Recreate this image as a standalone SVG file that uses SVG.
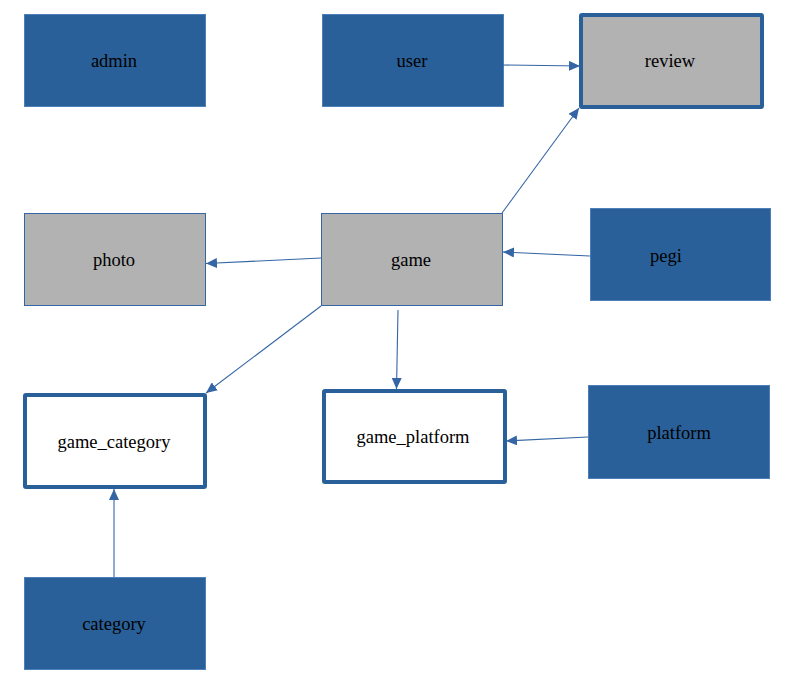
<svg xmlns="http://www.w3.org/2000/svg" width="787" height="688" viewBox="0 0 787 688">
<style>
.solid{fill:#2a6099;stroke:#4d7fb8;stroke-width:1}
.gray{fill:#b2b2b2;stroke:#3465a4;stroke-width:1}
.thick{stroke:#2a6099;stroke-width:4}
.white{fill:#ffffff}
.grayt{fill:#b2b2b2}
text{font-family:"Liberation Serif","Times New Roman",serif;font-size:18.5px;fill:#000;text-anchor:middle;dominant-baseline:central}
.conn line{stroke:#3465a4;stroke-width:1.1;fill:none;marker-end:url(#arr)}
</style>
<defs>
<marker id="arr" markerUnits="userSpaceOnUse" markerWidth="12" markerHeight="10" refX="11" refY="5" orient="auto">
<path d="M0,0 L11,5 L0,10 Z" fill="#3465a4"/>
</marker>
</defs>
<g id="admin"><rect class="solid" x="24.5" y="14.5" width="181" height="92"/><text x="114" y="61">admin</text></g>
<g id="user"><rect class="solid" x="322.5" y="14.5" width="181" height="92"/><text x="412" y="61">user</text></g>
<g id="review"><rect class="grayt thick" x="581" y="15" width="181" height="92" rx="1"/><text x="670" y="61">review</text></g>
<g id="photo"><rect class="gray" x="24.5" y="213.5" width="181" height="92"/><text x="114" y="260">photo</text></g>
<g id="game"><rect class="gray" x="321.5" y="213.5" width="181" height="92"/><text x="411" y="260">game</text></g>
<g id="pegi"><rect class="solid" x="590.5" y="208.5" width="180" height="92"/><text x="666" y="256">pegi</text></g>
<g id="game_category"><rect class="white thick" x="25" y="395" width="180" height="92" rx="1"/><text x="114" y="442">game_category</text></g>
<g id="game_platform"><rect class="white thick" x="324" y="391" width="181" height="91" rx="1"/><text x="413" y="437">game_platform</text></g>
<g id="platform"><rect class="solid" x="588.5" y="385.5" width="181" height="93"/><text x="679" y="433">platform</text></g>
<g id="category"><rect class="solid" x="24.5" y="577.5" width="181" height="92"/><text x="114" y="624">category</text></g>
<g class="conn" id="connectors">
<line x1="503" y1="65" x2="580" y2="66"/>
<line x1="502" y1="213" x2="579" y2="108"/>
<line x1="590" y1="256" x2="503" y2="252"/>
<line x1="321" y1="258" x2="206" y2="263.5"/>
<line x1="321" y1="306" x2="206" y2="393"/>
<line x1="398" y1="310" x2="396.5" y2="389"/>
<line x1="588" y1="437" x2="506" y2="441"/>
<line x1="114" y1="577" x2="114" y2="489"/>
</g>
</svg>
